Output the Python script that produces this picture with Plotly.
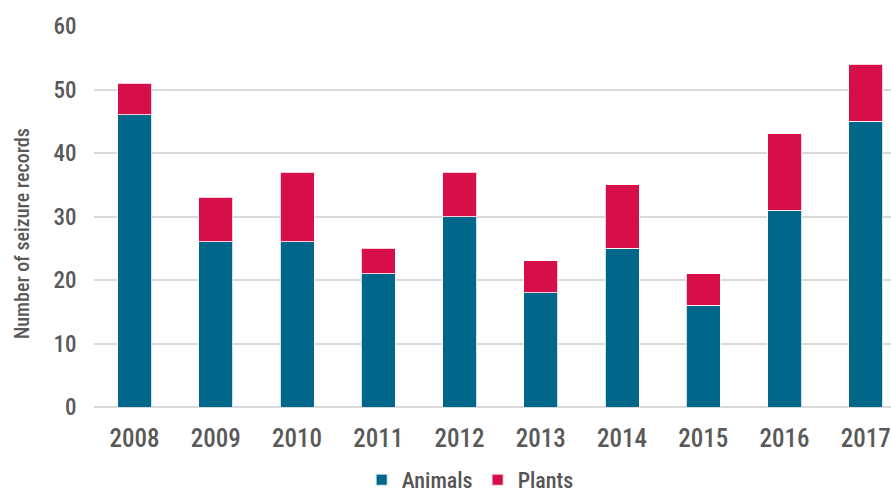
import plotly.graph_objects as go

years = ["2008", "2009", "2010", "2011", "2012", "2013", "2014", "2015", "2016", "2017"]
animals = [46, 26, 26, 21, 30, 18, 25, 16, 31, 45]
plants = [5, 7, 11, 4, 7, 5, 10, 5, 12, 9]

FONT = "Roboto Condensed"
GREY = "#595959"

fig = go.Figure()
fig.add_trace(go.Bar(
    x=years, y=animals, name="Animals",
    marker=dict(color="#00678a", line=dict(color="rgba(255,255,255,0.8)", width=1)),
    width=0.42,
))
fig.add_trace(go.Bar(
    x=years, y=plants, name="Plants",
    marker=dict(color="#d60f4b", line=dict(color="rgba(255,255,255,0.8)", width=1)),
    width=0.42,
))

fig.update_layout(
    width=891, height=494,
    barmode="stack",
    plot_bgcolor="white", paper_bgcolor="white",
    margin=dict(l=94, r=0, t=26, b=87),
    font=dict(family=FONT, color=GREY, size=21, weight=500),
    showlegend=True,
    legend=dict(
        orientation="h", x=0.472, xanchor="center",
        yref="container", y=(494 - 480) / 494, yanchor="middle",
        font=dict(size=22, color="#555555", family=FONT, weight=500),
        itemwidth=30, traceorder="normal", itemsizing="constant",
    ),
    xaxis=dict(
        type="category", range=[-0.5, 9.31],
        showgrid=False, showline=False, zeroline=False,
        ticks="outside", ticklen=9, tickcolor="rgba(0,0,0,0)",
        tickfont=dict(size=25, color=GREY, family=FONT, weight=500),
    ),
    yaxis=dict(
        range=[0, 60], tickvals=[0, 10, 20, 30, 40, 50, 60],
        showgrid=True, gridcolor="#d9d9d9", gridwidth=2,
        zeroline=True, zerolinecolor="#d9d9d9", zerolinewidth=2,
        showline=False,
        ticks="outside", ticklen=12, tickcolor="rgba(0,0,0,0)",
        tickfont=dict(size=23, color=GREY, family=FONT, weight=500),
    ),
    annotations=[dict(
        text="Number of seizure records", textangle=-90,
        xref="paper", yref="paper", x=(22 - 94) / 797, y=(407 - 234) / 381,
        xanchor="center", yanchor="middle", showarrow=False,
        font=dict(size=20, color=GREY, family=FONT, weight=500),
    )],
)

fig.write_html("out.html")
